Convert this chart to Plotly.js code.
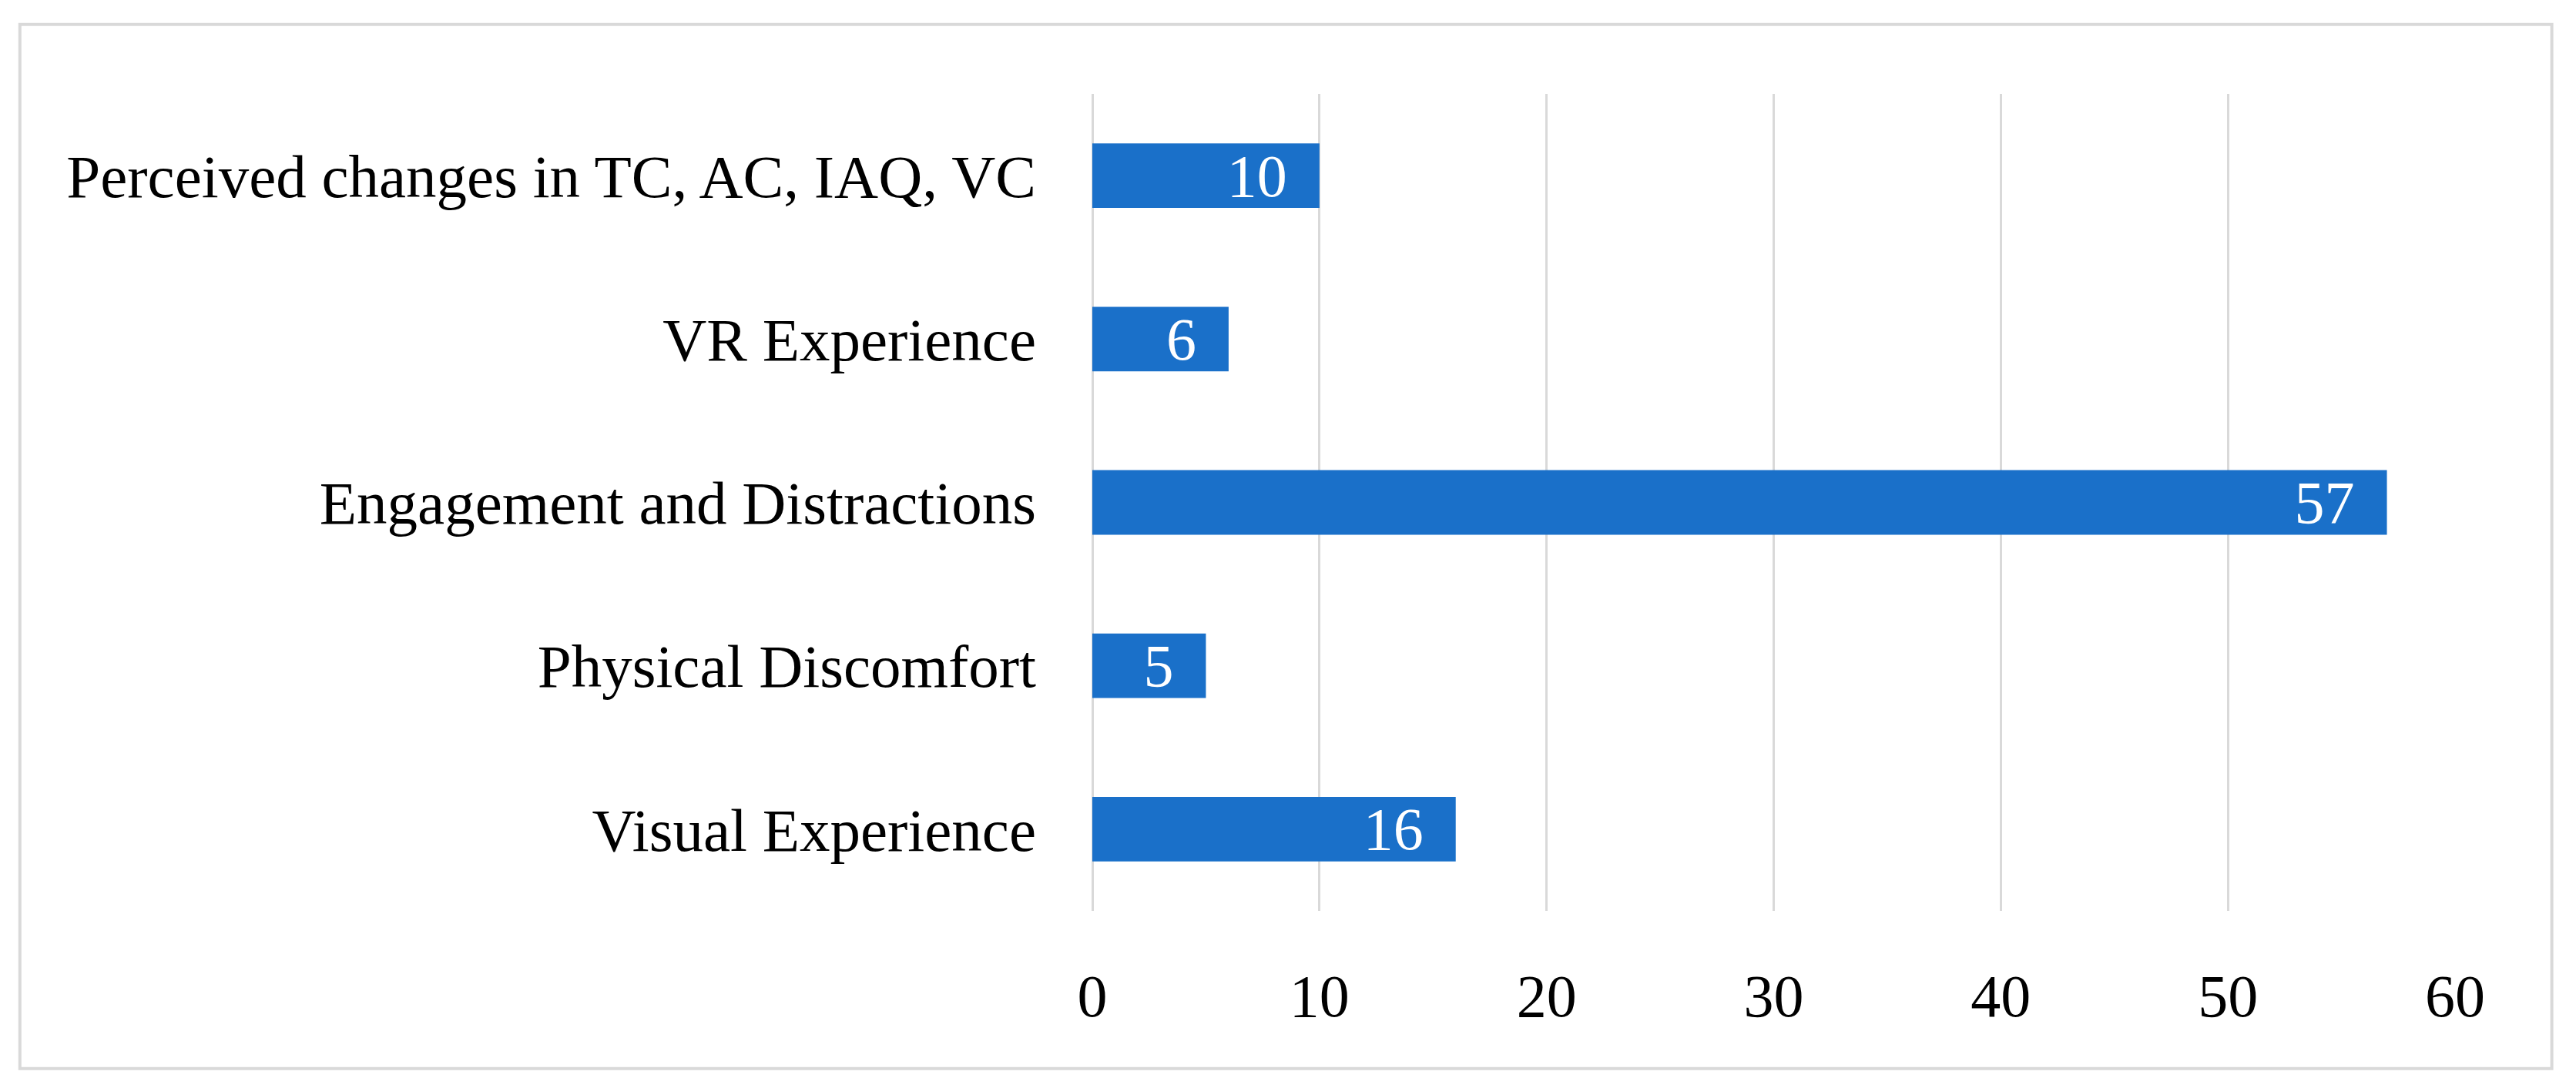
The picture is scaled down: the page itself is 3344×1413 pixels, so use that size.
<!DOCTYPE html>
<html>
<head>
<meta charset="utf-8">
<script src="https://cdn.plot.ly/plotly-3.0.1.min.js"></script>
<style>
  html, body { margin: 0; padding: 0; background: #ffffff; }
  #chart { width: 3344px; height: 1413px; }
</style>
</head>
<body>
<div id="chart"></div>
<script>
// Data (top-to-bottom order as displayed)
const categories = [
  "Perceived changes in TC, AC, IAQ, VC",
  "VR Experience",
  "Engagement and Distractions",
  "Physical Discomfort",
  "Visual Experience"
];
const counts = [10, 6, 57, 5, 16];
const xTickValues = [0, 10, 20, 30, 40, 50, 60];

const FONT = "'Liberation Serif', 'Times New Roman', serif";
const BAR_COLOR = "#1a70c9";
const GRID_COLOR = "#d9d9d9";

const trace = {
  type: "bar",
  orientation: "h",
  y: categories,
  x: counts,
  marker: { color: BAR_COLOR, line: { width: 0 } },
  text: counts.map(v => String(v) + "\u00a0\u00a0"),
  texttemplate: "%{text}",
  textposition: "inside",
  insidetextanchor: "end",
  textangle: 0,
  constraintext: "none",
  cliponaxis: false,
  textfont: { family: FONT, size: 78, color: "#ffffff" },
  hoverinfo: "skip"
};

const layout = {
  width: 3344,
  height: 1413,
  margin: { l: 1418, r: 157, t: 122, b: 230, pad: 0 },
  paper_bgcolor: "#ffffff",
  plot_bgcolor: "#ffffff",
  showlegend: false,
  bargap: 0.605,
  font: { family: FONT, size: 78, color: "#000000" },
  xaxis: {
    range: [0, 60],
    tickvals: xTickValues,
    ticktext: xTickValues.map(String),
    showgrid: true,
    gridcolor: GRID_COLOR,
    gridwidth: 3,
    zeroline: true,
    zerolinecolor: GRID_COLOR,
    zerolinewidth: 3,
    showline: false,
    ticks: "",
    ticklabelstandoff: 58,
    tickfont: { family: FONT, size: 78, color: "#000000" },
    fixedrange: true
  },
  yaxis: {
    autorange: "reversed",
    type: "category",
    showgrid: false,
    zeroline: false,
    showline: false,
    ticks: "",
    ticklabelstandoff: 72,
    tickfont: { family: FONT, size: 79, color: "#000000" },
    fixedrange: true
  },
  shapes: [
    {
      type: "rect",
      xref: "paper", yref: "paper",
      x0: -0.787, x1: 1.071,
      y0: -0.193, y1: 1.085,
      line: { color: "#d9d9d9", width: 4 },
      fillcolor: "rgba(0,0,0,0)",
      layer: "below"
    }
  ]
};

Plotly.newPlot("chart", [trace], layout, { staticPlot: true, displayModeBar: false });
</script>
</body>
</html>
